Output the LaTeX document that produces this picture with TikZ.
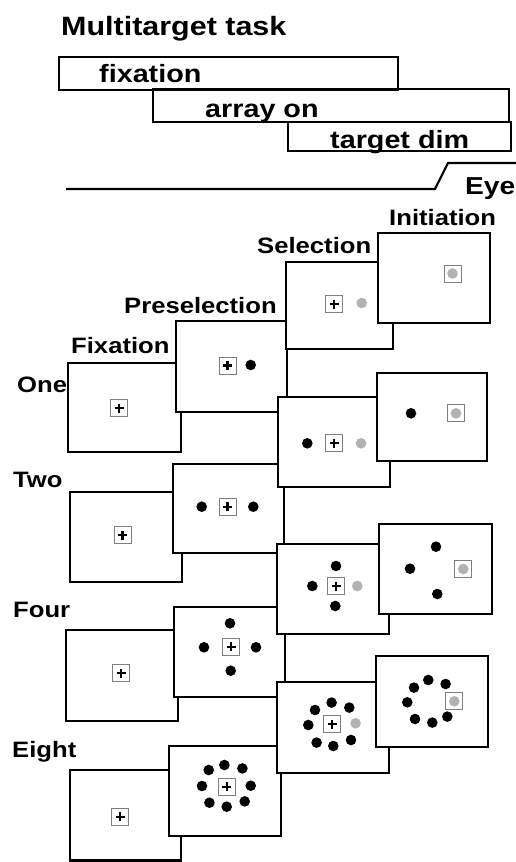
\documentclass[tikz,border=0pt]{standalone}
\usepackage{fontspec}
\newfontfamily\lab{Liberation Sans}[FakeStretch=1.15]
\definecolor{tgtgray}{gray}{0.70}
\definecolor{sqgray}{gray}{0.50}
\newcommand\pnl[5]{\node[panel,minimum width={#4pt-#2pt},minimum height={#5pt-#3pt}] (#1) at ({(#2+#4)/2},{(#3+#5)/2}) {};}
\newcommand\blackdot[1]{\fill #1 circle (5.3);}
\newcommand\graydot[1]{\fill[tgtgray] #1 circle (5.3);}
\begin{document}
\begin{tikzpicture}[x=1pt,y=-1pt,
  panel/.style={draw,fill=white,line width=2.2pt,inner sep=0pt,outer sep=0pt},
  bar/.style={draw,line width=1.3pt,inner sep=0pt,outer sep=0pt},
  txt/.style={anchor=base west,inner sep=0pt,font=\lab\bfseries\fontsize{22.3}{24}\selectfont},
  bartxt/.style={anchor=base west,inner sep=0pt,font=\lab\bfseries\fontsize{25}{27}\selectfont},
  titletxt/.style={anchor=base west,inner sep=0pt,font=\lab\bfseries\fontsize{26.5}{28}\selectfont},
  fixpt/.pic={\draw[line width=0.9pt,draw=sqgray] (-8.5,-8.5) rectangle (8.5,8.5);
              \draw[line width=2.1pt] (-4.5,0)--(4.5,0) (0,-4.5)--(0,4.5);},
  tgtbox/.pic={\fill[tgtgray] (0,0) circle (5.3);
              \draw[line width=0.9pt,draw=sqgray] (-8.5,-8.5) rectangle (8.5,8.5);}
]
\useasboundingbox (0,0) rectangle (516,862);

% ---- timing bars ----
\node[titletxt] (title) at (61,35) {Multitarget task};
\node[bar,minimum width=339pt,minimum height=33pt] (bfix) at (228.5,73.5) {};
\node[bar,minimum width=356pt,minimum height=33pt] (barr) at (331,105.5) {};
\node[bar,minimum width=223pt,minimum height=29pt] (btd) at (399.5,136.5) {};
\node[bartxt] (tfix) at (99,82) {fixation};
\node[bartxt] (tarr) at (205,117) {array on};
\node[bartxt] (ttd) at (330,148) {target dim};
\coordinate (e0) at (66,189);
\coordinate (e1) at (435,189);
\coordinate (e2) at (448,163);
\coordinate (e3) at (516,163);
\draw[line width=2.2pt] (e0) -- (e1) -- (e2) -- (e3);
\node[bartxt,font=\lab\bfseries\fontsize{24.5}{26}\selectfont] (teye) at (465,194) {Eye};

% ---- row One ----
\pnl{F1}{68}{363}{181}{452}
\pic at (119,408) {fixpt};
\pnl{P1}{176}{321}{287}{412}
\pic at (227.5,365.5) {fixpt};
\blackdot{(250.7,365)}
\pnl{S1}{286}{262}{393}{349}
\pic at (334,304) {fixpt};
\graydot{(361.7,303)}
\pnl{I1}{378}{233}{490}{323}
\pic at (452.5,273.5) {tgtbox};

% ---- row Two ----
\pnl{F2}{70}{492}{182}{582}
\pic at (122.5,535) {fixpt};
\pnl{P2}{173}{464}{284}{553}
\pic at (227.5,506.7) {fixpt};
\blackdot{(201.7,506.7)}
\blackdot{(253.3,506.7)}
\pnl{S2}{278}{397}{390}{487}
\pic at (334,443.3) {fixpt};
\blackdot{(307.3,443.3)}
\graydot{(361,443.3)}
\pnl{I2}{377}{373}{487}{461}
\blackdot{(411,413.3)}
\pic at (456,413.3) {tgtbox};

% ---- row Four ----
\pnl{F4}{66}{630}{178}{721}
\pic at (121,673.3) {fixpt};
\pnl{P4}{174}{607}{285}{697}
\pic at (231,646.7) {fixpt};
\blackdot{(230,623.3)}
\blackdot{(204,647.3)}
\blackdot{(256,647.3)}
\blackdot{(230.7,670.7)}
\pnl{S4}{277}{544}{389}{634}
\pic at (336.3,586) {fixpt};
\blackdot{(336,566)}
\blackdot{(312.3,586)}
\blackdot{(335.3,606)}
\graydot{(357.3,586)}
\pnl{I4}{379}{524}{492}{614}
\blackdot{(436,546.7)}
\blackdot{(410,568.7)}
\blackdot{(437.3,594)}
\pic at (463.3,569) {tgtbox};

% ---- row Eight ----
\pnl{F8}{70}{770}{181}{860.5}
\pic at (120.3,816.7) {fixpt};
\pnl{P8}{169}{746}{281}{836}
\pic at (226.7,786.7) {fixpt};
\begin{scope}[shift={(226.7,786.7)}]
  \foreach \p in {(-2.3,-21.7),(15.7,-18.3),(24,-1),(18,14.7),(0,20),(-17.3,16),(-24.7,-0.7),(-18,-16.7)}
    {\blackdot{\p}}
\end{scope}
\pnl{S8}{277}{682}{389}{773}
\pic at (332.3,724.3) {fixpt};
\begin{scope}[shift={(332.3,724.3)}]
  \foreach \p in {(-0.7,-21.7),(17,-16.7),(18.7,15.7),(1,21.7),(-15.7,18.3),(-24,0.7),(-17.3,-14.3)}
    {\blackdot{\p}}
  \graydot{(23.3,-1)}
\end{scope}
\pnl{I8}{376}{656}{488}{747}
\begin{scope}[shift={(430.3,701.3)}]
  \foreach \p in {(-2,-21.3),(15.3,-17.3),(17,15.3),(2,21.3),(-15.3,17.7),(-23,1),(-16.3,-13.7)}
    {\blackdot{\p}}
  \pic at (24,0) {tgtbox};
\end{scope}

% ---- labels ----
\node[txt] (lIni) at (389,225) {Initiation};
\node[txt] (lSel) at (257,253) {Selection};
\node[txt] (lPre) at (124,313) {Preselection};
\node[txt] (lFix) at (71,353) {Fixation};
\node[txt] (rOne) at (17,392) {One};
\node[txt] (rTwo) at (13,487) {Two};
\node[txt] (rFour) at (13,617) {Four};
\node[txt] (rEight) at (12,757) {Eight};
\end{tikzpicture}
\end{document}
